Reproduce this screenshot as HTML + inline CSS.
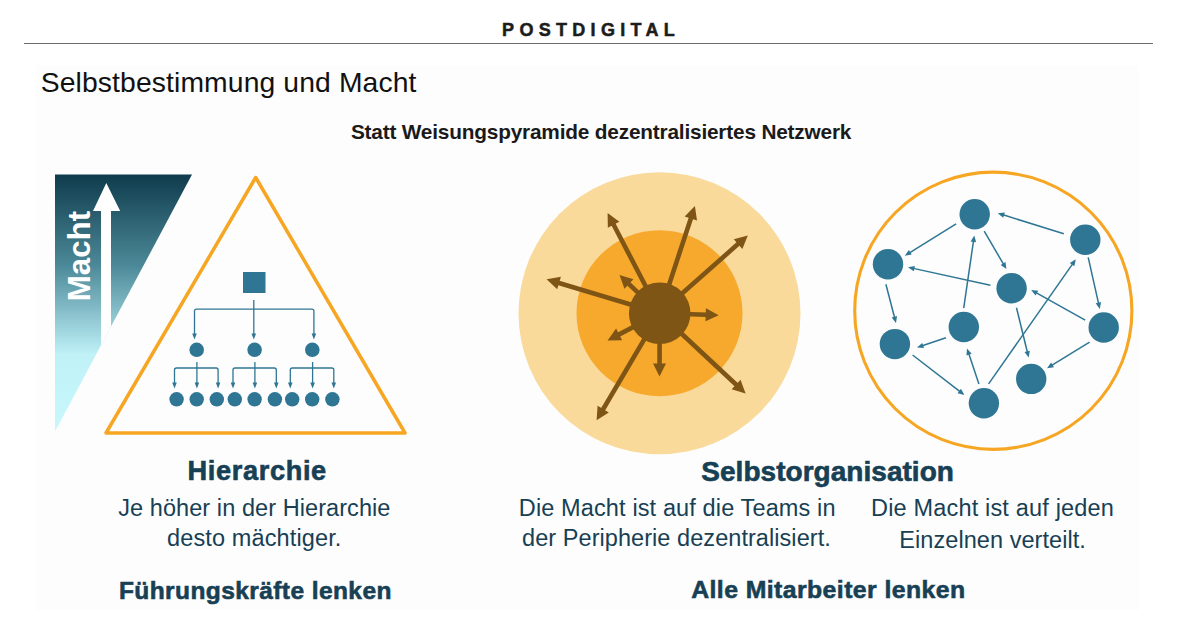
<!DOCTYPE html>
<html><head><meta charset="utf-8">
<style>
html,body{margin:0;padding:0;background:#fff;}
body{width:1180px;height:634px;position:relative;overflow:hidden;font-family:"Liberation Sans",sans-serif;}
.t{position:absolute;white-space:nowrap;line-height:30px;height:30px;}
.c{transform:translateX(-50%);}
.navy{color:#163a4e;}
</style></head><body>
<div style="position:absolute;left:36px;top:65px;width:1103px;height:545px;background:#fdfdfd;"></div>
<div style="position:absolute;left:24px;top:42.5px;width:1129px;height:1.5px;background:#6a6a6a;"></div>

<svg style="position:absolute;left:0;top:0" width="1180" height="634" viewBox="0 0 1180 634">
<defs>
<linearGradient id="mg" x1="0" y1="175" x2="0" y2="431" gradientUnits="userSpaceOnUse">
<stop offset="0" stop-color="#0f3c4d"/>
<stop offset="0.35" stop-color="#4b8897"/>
<stop offset="0.55" stop-color="#8cc4cf"/>
<stop offset="0.70" stop-color="#bff1f7"/>
<stop offset="1" stop-color="#c8f8fc"/>
</linearGradient>
</defs>
<!-- Macht triangle -->
<polygon points="55,174.6 192,174.6 55,431.5" fill="url(#mg)"/>
<clipPath id="mc"><polygon points="55,174.6 192,174.6 55,431.5"/></clipPath>
<polygon clip-path="url(#mc)" points="106.3,183 93,211 101,211 101,634 111,634 111,211 120.2,211" fill="#fff"/>
<text transform="translate(89.6,301.3) rotate(-90)" font-family="Liberation Sans" font-weight="bold" font-size="31.3" fill="#fff">Macht</text>

<!-- Orange triangle -->
<polygon points="255.7,177.5 405,433 106,433" fill="none" stroke="#f6a623" stroke-width="3.5" stroke-linejoin="round"/>
<!-- org chart -->
<g id="org">
<rect x="243" y="272" width="22.5" height="21" fill="#2f7694"/>
<line x1="253.8" y1="300" x2="253.8" y2="335" stroke="#2f7694" stroke-width="1.3"/>
<polygon points="253.8,339.5 251.5,333.5 256.1,333.5" fill="#2f7694"/>
<path d="M194.5 335V311.2q0-2 2-2H311.9q2 0 2 2V335" fill="none" stroke="#2f7694" stroke-width="1.3"/>
<polygon points="194.5,339.5 192.2,333.5 196.8,333.5" fill="#2f7694"/>
<polygon points="313.9,339.5 311.59999999999997,333.5 316.2,333.5" fill="#2f7694"/>
<circle cx="196.7" cy="349.8" r="7.3" fill="#2f7694"/>
<circle cx="254.6" cy="349.8" r="7.3" fill="#2f7694"/>
<circle cx="312.3" cy="349.8" r="7.3" fill="#2f7694"/>
<line x1="196.9" y1="362" x2="196.9" y2="384" stroke="#2f7694" stroke-width="1.3"/>
<polygon points="196.9,388.4 194.6,382.4 199.20000000000002,382.4" fill="#2f7694"/>
<path d="M174.5 384V370q0-2 2-2H216.1q2 0 2 2V384" fill="none" stroke="#2f7694" stroke-width="1.3"/>
<polygon points="174.5,388.4 172.2,382.4 176.8,382.4" fill="#2f7694"/>
<polygon points="218.1,388.4 215.79999999999998,382.4 220.4,382.4" fill="#2f7694"/>
<line x1="254.9" y1="362" x2="254.9" y2="384" stroke="#2f7694" stroke-width="1.3"/>
<polygon points="254.9,388.4 252.6,382.4 257.2,382.4" fill="#2f7694"/>
<path d="M233 384V370q0-2 2-2H274.3q2 0 2 2V384" fill="none" stroke="#2f7694" stroke-width="1.3"/>
<polygon points="233,388.4 230.7,382.4 235.3,382.4" fill="#2f7694"/>
<polygon points="276.3,388.4 274.0,382.4 278.6,382.4" fill="#2f7694"/>
<line x1="312.6" y1="362" x2="312.6" y2="384" stroke="#2f7694" stroke-width="1.3"/>
<polygon points="312.6,388.4 310.3,382.4 314.90000000000003,382.4" fill="#2f7694"/>
<path d="M290.3 384V370q0-2 2-2H331.8q2 0 2 2V384" fill="none" stroke="#2f7694" stroke-width="1.3"/>
<polygon points="290.3,388.4 288.0,382.4 292.6,382.4" fill="#2f7694"/>
<polygon points="333.8,388.4 331.5,382.4 336.1,382.4" fill="#2f7694"/>
<circle cx="176.6" cy="399.3" r="7.2" fill="#2f7694"/>
<circle cx="196.7" cy="399.3" r="7.2" fill="#2f7694"/>
<circle cx="216.8" cy="399.3" r="7.2" fill="#2f7694"/>
<circle cx="234.8" cy="399.3" r="7.2" fill="#2f7694"/>
<circle cx="254.6" cy="399.3" r="7.2" fill="#2f7694"/>
<circle cx="274.9" cy="399.3" r="7.2" fill="#2f7694"/>
<circle cx="292.2" cy="399.3" r="7.2" fill="#2f7694"/>
<circle cx="312.2" cy="399.3" r="7.2" fill="#2f7694"/>
<circle cx="332.4" cy="399.3" r="7.2" fill="#2f7694"/>
</g>

<!-- orange circles -->
<circle cx="659.5" cy="313.3" r="141" fill="#f9da9b"/>
<circle cx="659.5" cy="313.2" r="83" fill="#f6a92c"/>
<g id="arrows">
<line x1="659.70" y1="313.20" x2="613.14" y2="223.74" stroke="#7e5515" stroke-width="4.6"/><polygon points="607.60,213.10 619.37,221.63 607.84,227.63" fill="#7e5515"/>
<line x1="659.70" y1="313.20" x2="691.15" y2="217.50" stroke="#7e5515" stroke-width="4.6"/><polygon points="694.90,206.10 697.02,220.48 684.67,216.42" fill="#7e5515"/>
<line x1="659.70" y1="313.20" x2="738.81" y2="243.34" stroke="#7e5515" stroke-width="4.6"/><polygon points="747.80,235.40 742.36,248.88 733.75,239.13" fill="#7e5515"/>
<line x1="659.70" y1="313.20" x2="558.09" y2="282.75" stroke="#7e5515" stroke-width="4.6"/><polygon points="546.60,279.30 560.92,276.81 557.19,289.26" fill="#7e5515"/>
<line x1="659.70" y1="313.20" x2="628.21" y2="283.35" stroke="#7e5515" stroke-width="4.6"/><polygon points="619.50,275.10 633.41,279.32 624.46,288.76" fill="#7e5515"/>
<line x1="659.70" y1="313.20" x2="706.71" y2="314.79" stroke="#7e5515" stroke-width="4.6"/><polygon points="718.70,315.20 705.49,321.26 705.93,308.26" fill="#7e5515"/>
<line x1="659.70" y1="313.20" x2="618.24" y2="334.85" stroke="#7e5515" stroke-width="4.6"/><polygon points="607.60,340.40 616.12,328.62 622.13,340.15" fill="#7e5515"/>
<line x1="659.70" y1="313.20" x2="659.54" y2="364.60" stroke="#7e5515" stroke-width="4.6"/><polygon points="659.50,376.60 653.04,363.58 666.04,363.62" fill="#7e5515"/>
<line x1="659.70" y1="313.20" x2="602.69" y2="409.96" stroke="#7e5515" stroke-width="4.6"/><polygon points="596.60,420.30 597.60,405.80 608.80,412.40" fill="#7e5515"/>
<line x1="659.70" y1="313.20" x2="736.83" y2="385.21" stroke="#7e5515" stroke-width="4.6"/><polygon points="745.60,393.40 731.66,389.28 740.53,379.78" fill="#7e5515"/>
</g>
<circle cx="659.7" cy="313.2" r="30.8" fill="#7e5515"/>

<!-- network -->
<circle cx="993.3" cy="310.75" r="138.6" fill="none" stroke="#f6a623" stroke-width="3.1"/>
<g id="net">
<line x1="956.10" y1="223.80" x2="909.47" y2="252.80" stroke="#2f7694" stroke-width="1.5"/><polygon points="904.80,255.70 908.87,249.93 911.77,254.60" fill="#2f7694"/>
<line x1="1063.80" y1="233.80" x2="1003.05" y2="214.84" stroke="#2f7694" stroke-width="1.5"/><polygon points="997.80,213.20 1004.82,212.51 1003.19,217.76" fill="#2f7694"/>
<line x1="990.40" y1="285.20" x2="913.37" y2="268.37" stroke="#2f7694" stroke-width="1.5"/><polygon points="908.00,267.20 914.94,265.90 913.76,271.27" fill="#2f7694"/>
<line x1="984.20" y1="231.20" x2="1003.62" y2="264.35" stroke="#2f7694" stroke-width="1.5"/><polygon points="1006.40,269.10 1000.74,264.88 1005.49,262.10" fill="#2f7694"/>
<line x1="963.70" y1="308.20" x2="973.51" y2="240.84" stroke="#2f7694" stroke-width="1.5"/><polygon points="974.30,235.40 976.08,242.23 970.64,241.44" fill="#2f7694"/>
<line x1="1088.20" y1="257.40" x2="1098.59" y2="303.63" stroke="#2f7694" stroke-width="1.5"/><polygon points="1099.80,309.00 1095.69,303.26 1101.06,302.06" fill="#2f7694"/>
<line x1="1085.20" y1="320.10" x2="1036.00" y2="292.58" stroke="#2f7694" stroke-width="1.5"/><polygon points="1031.20,289.90 1038.22,290.67 1035.53,295.47" fill="#2f7694"/>
<line x1="1016.50" y1="307.80" x2="1027.39" y2="352.26" stroke="#2f7694" stroke-width="1.5"/><polygon points="1028.70,357.60 1024.48,351.94 1029.82,350.63" fill="#2f7694"/>
<line x1="1089.60" y1="342.20" x2="1051.69" y2="365.33" stroke="#2f7694" stroke-width="1.5"/><polygon points="1047.00,368.20 1051.12,362.47 1053.98,367.16" fill="#2f7694"/>
<line x1="885.90" y1="284.30" x2="894.61" y2="317.78" stroke="#2f7694" stroke-width="1.5"/><polygon points="896.00,323.10 891.70,317.50 897.02,316.12" fill="#2f7694"/>
<line x1="946.00" y1="337.70" x2="922.21" y2="345.82" stroke="#2f7694" stroke-width="1.5"/><polygon points="917.00,347.60 922.26,342.90 924.04,348.10" fill="#2f7694"/>
<line x1="912.60" y1="355.00" x2="960.05" y2="391.64" stroke="#2f7694" stroke-width="1.5"/><polygon points="964.40,395.00 957.57,393.20 960.94,388.85" fill="#2f7694"/>
<line x1="978.90" y1="383.90" x2="968.75" y2="353.61" stroke="#2f7694" stroke-width="1.5"/><polygon points="967.00,348.40 971.67,353.69 966.46,355.44" fill="#2f7694"/>
<line x1="988.60" y1="383.90" x2="1072.65" y2="263.81" stroke="#2f7694" stroke-width="1.5"/><polygon points="1075.80,259.30 1074.33,266.20 1069.82,263.05" fill="#2f7694"/>
<circle cx="974.7" cy="214.2" r="15.2" fill="#2f7694"/>
<circle cx="888" cy="264.2" r="15.2" fill="#2f7694"/>
<circle cx="1085.3" cy="239.8" r="15.2" fill="#2f7694"/>
<circle cx="1011.6" cy="288.2" r="15.2" fill="#2f7694"/>
<circle cx="1103.7" cy="327.5" r="15.2" fill="#2f7694"/>
<circle cx="894.9" cy="344.1" r="15.2" fill="#2f7694"/>
<circle cx="963.8" cy="327" r="15.2" fill="#2f7694"/>
<circle cx="983.9" cy="403.2" r="15.2" fill="#2f7694"/>
<circle cx="1031.2" cy="378.9" r="15.2" fill="#2f7694"/>
</g>
</svg>


<div class="t" style="left:502.10px;top:15.10px;font-size:18px;font-weight:bold;letter-spacing:5.300px;color:#1c1c1c;-webkit-text-stroke:0.5px #1c1c1c;">POSTDIGITAL</div>
<div class="t" style="left:40.70px;top:66.70px;font-size:28.3px;font-weight:normal;letter-spacing:0.120px;color:#111111;">Selbstbestimmung und Macht</div>
<div class="t" style="left:350.90px;top:116.80px;font-size:20.8px;font-weight:bold;letter-spacing:-0.183px;color:#1a1a1a;">Statt Weisungspyramide dezentralisiertes Netzwerk</div>
<div class="t" style="left:187.60px;top:455.60px;font-size:27.2px;font-weight:bold;letter-spacing:0.621px;color:#174054;-webkit-text-stroke:0.6px #174054;">Hierarchie</div>
<div class="t" style="left:118.20px;top:493.10px;font-size:23.5px;font-weight:normal;letter-spacing:0.074px;color:#174054;">Je höher in der Hierarchie</div>
<div class="t" style="left:167.00px;top:523.40px;font-size:23.5px;font-weight:normal;letter-spacing:0.130px;color:#174054;">desto mächtiger.</div>
<div class="t" style="left:118.90px;top:575.60px;font-size:24.5px;font-weight:bold;letter-spacing:0.420px;color:#174054;-webkit-text-stroke:0.6px #174054;">Führungskräfte lenken</div>
<div class="t" style="left:701.30px;top:456.50px;font-size:28px;font-weight:bold;letter-spacing:0.033px;color:#174054;-webkit-text-stroke:0.6px #174054;">Selbstorganisation</div>
<div class="t" style="left:518.80px;top:493.00px;font-size:23.5px;font-weight:normal;letter-spacing:0.127px;color:#174054;">Die Macht ist auf die Teams in</div>
<div class="t" style="left:522.10px;top:523.40px;font-size:23.5px;font-weight:normal;letter-spacing:0.057px;color:#174054;">der Peripherie dezentralisiert.</div>
<div class="t" style="left:871.00px;top:493.00px;font-size:23.5px;font-weight:normal;letter-spacing:0.172px;color:#174054;">Die Macht ist auf jeden</div>
<div class="t" style="left:899.30px;top:524.50px;font-size:23.5px;font-weight:normal;letter-spacing:0.062px;color:#174054;">Einzelnen verteilt.</div>
<div class="t" style="left:691.20px;top:574.90px;font-size:24.8px;font-weight:bold;letter-spacing:0.425px;color:#174054;-webkit-text-stroke:0.6px #174054;">Alle Mitarbeiter lenken</div>
</body></html>
